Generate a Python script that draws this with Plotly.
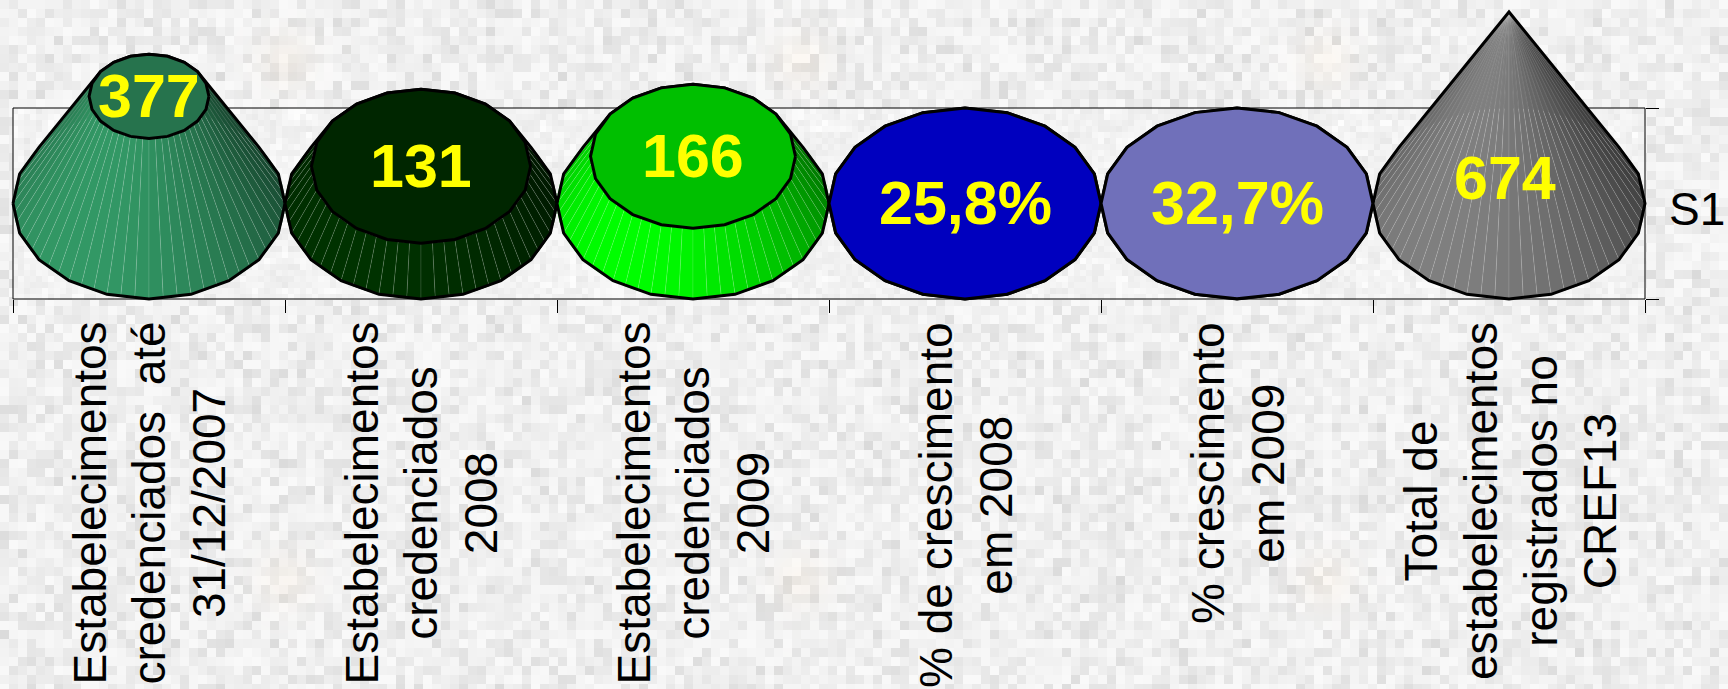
import base64, struct, zlib
import numpy as np
import plotly.graph_objects as go

# ---- data ----
categories = [
    "Estabelecimentos<br>credenciados  até<br>31/12/2007",
    "Estabelecimentos<br>credenciados<br>2008",
    "Estabelecimentos<br>credenciados<br>2009",
    "% de crescimento<br>em 2008",
    "% crescimento<br>em 2009",
    "Total de<br>estabelecimentos<br>registrados no<br>CREF13",
]
values = [377, 131, 166, 0.258, 0.327, 674]
value_labels = ["377", "131", "166", "25,8%", "32,7%", "674"]
series_name = "S1"

# ---- styles ----
side_colors = ["#339966", "#003300", "#00FF00", "#0000FF", "#9999FF", "#808080"]
cap_colors = ["#26734D", "#002600", "#00BF00", "#0000BF", "#7070BA", "#606060"]
label_shift_y_px = [0, 0, 0, 0, 0, 166]
label_shift_x_px = [0, 0, 0, 0, 0, -4]
W, H = 1728, 689
FX0, FX1, FY0, FY1 = 13, 1645, 108, 299
Y_HALF = 336.0          # half height of the base ellipse in value units
X_HALF = 0.5
APEX = max(values)
N = 60
FONT = "Liberation Sans, Arial, sans-serif"

# axes cover the whole canvas, so that marks above the frame are not clipped
px_per_x = (FX1 - FX0) / len(values)
px_per_y = (FY1 - FY0) / (2 * Y_HALF)
x_range = [-0.5 - FX0 / px_per_x, 5.5 + (W - FX1) / px_per_x]
y_mid_px = (FY0 + FY1) / 2
y_range = [-(H - y_mid_px) / px_per_y, y_mid_px / px_per_y]


def background_uri():
    def noise(i, j, seed):
        v = np.sin(i * 12.9898 + j * 78.233 + seed) * 43758.5453
        return v - np.floor(v)

    yy, xx = np.mgrid[0:H, 0:W]
    n1 = noise(xx // 9, yy // 9, 1.0)
    outer = 218 + 32 * np.sqrt(n1)
    n2 = noise(xx // 6, yy // 6, 2.0)
    n3 = noise(xx // 12, yy // 12, 3.0)
    inner = 232 + 12 * n2 + 10 * n3
    inside = (xx >= FX0) & (xx <= FX1) & (yy >= FY0) & (yy <= FY1)
    g = np.where(inside, inner, outer)
    tint = np.zeros_like(g, dtype=float)
    for cx in (285, 800, 1325):
        for cy in (60, 580):
            tint += np.exp(-(((xx - cx) / 28.0) ** 2 + ((yy - cy) / 28.0) ** 2))
    rgb = np.stack([g + 3 * tint, g - 1 * tint, g - 6 * tint], axis=2)
    rgb = np.clip(rgb, 0, 255).astype(np.uint8)
    raw = b"".join(b"\x00" + rgb[r].tobytes() for r in range(H))

    def chunk(tag, data):
        body = tag + data
        return struct.pack(">I", len(data)) + body + struct.pack(">I", zlib.crc32(body))

    png = (b"\x89PNG\r\n\x1a\n"
           + chunk(b"IHDR", struct.pack(">IIBBBBB", W, H, 8, 2, 0, 0, 0))
           + chunk(b"IDAT", zlib.compress(raw, 9))
           + chunk(b"IEND", b""))
    return "data:image/png;base64," + base64.b64encode(png).decode()


def shade(color, f):
    r, g, b = int(color[1:3], 16), int(color[3:5], 16), int(color[5:7], 16)
    return "rgb(%d,%d,%d)" % (r * f, g * f, b * f)


def hull(points):
    # convex hull of the base and top rims: the silhouette of the cone
    pts = sorted(set(points))

    def half(seq):
        out = []
        for p in seq:
            while len(out) > 1 and ((out[-1][0] - out[-2][0]) * (p[1] - out[-2][1])
                                    - (out[-1][1] - out[-2][1]) * (p[0] - out[-2][0])) <= 0:
                out.pop()
            out.append(p)
        return out

    lo, up = half(pts), half(pts[::-1])
    return lo[:-1] + up[:-1]


fig = go.Figure()
theta = np.linspace(0, 2 * np.pi, N + 1)

for idx, (v, sc, cc) in enumerate(zip(values, side_colors, cap_colors)):
    k = 1 - v / APEX
    bx = idx + X_HALF * np.cos(theta)
    by = Y_HALF * np.sin(theta)
    tx = idx + X_HALF * k * np.cos(theta)
    ty = v + Y_HALF * k * np.sin(theta)
    order = sorted(range(N), key=lambda a: -np.sin((theta[a] + theta[a + 1]) / 2))
    for a in order:
        mid = (theta[a] + theta[a + 1]) / 2
        f = 0.7 + 0.3 * np.cos(mid - np.radians(235))
        fig.add_trace(go.Scatter(
            x=[bx[a], bx[a + 1], tx[a + 1], tx[a], bx[a]],
            y=[by[a], by[a + 1], ty[a + 1], ty[a], by[a]],
            mode="lines", line=dict(width=0.5, color="rgba(255,255,255,0.22)"),
            fill="toself", fillcolor=shade(sc, f),
            showlegend=False, hoverinfo="skip"))
    outline = hull([(float(p), float(q)) for p, q in zip(bx[::3], by[::3])]
                   + [(float(p), float(q)) for p, q in zip(tx[::3], ty[::3])])
    outline.append(outline[0])
    fig.add_trace(go.Scatter(
        x=[p[0] for p in outline], y=[p[1] for p in outline],
        mode="lines", line=dict(color="black", width=3),
        showlegend=False, hoverinfo="skip"))
    if k > 0.01:
        fig.add_trace(go.Scatter(
            x=tx[::3], y=ty[::3], mode="lines", line=dict(color="black", width=3),
            fill="toself", fillcolor=cc,
            showlegend=False, hoverinfo="skip"))

annotations = []
for idx, (lab, v, txt, sy, sx) in enumerate(
        zip(categories, values, value_labels, label_shift_y_px, label_shift_x_px)):
    annotations.append(dict(
        x=idx, y=v, xref="x", yref="y", text="<b>%s</b>" % txt, showarrow=False,
        yshift=-sy, xshift=sx, font=dict(family=FONT, size=61, color="#FFFF00"),
        xanchor="center", yanchor="middle"))
    annotations.append(dict(
        x=idx, y=(H - 320) / H, xref="x", yref="paper", text=lab, showarrow=False,
        textangle=-90, align="center", xanchor="center", yanchor="top", xshift=1,
        font=dict(family=FONT, size=46, color="black")))
annotations.append(dict(
    x=1697 / W, y=1 - 209 / H, xref="paper", yref="paper", text=series_name, showarrow=False,
    xanchor="center", yanchor="middle", font=dict(family=FONT, size=46, color="black")))

fig.update_layout(
    width=W, height=H, autosize=False,
    margin=dict(l=0, r=0, t=0, b=0, pad=0),
    paper_bgcolor="#EBEBEB", plot_bgcolor="rgba(0,0,0,0)",
    showlegend=False,
    annotations=annotations,
    images=[dict(source=background_uri(), xref="paper", yref="paper", x=0, y=1,
                 sizex=1, sizey=1, xanchor="left", yanchor="top", sizing="stretch",
                 layer="below")],
    shapes=[dict(type="rect", xref="x", yref="y", x0=-0.5, x1=5.5, y0=-Y_HALF, y1=Y_HALF,
                 line=dict(color="black", width=1), fillcolor="rgba(0,0,0,0)", layer="below")],
    xaxis=dict(domain=[0, 1], range=x_range, tickmode="array",
               tickvals=[i - 0.5 for i in range(len(values) + 1)], showticklabels=False,
               ticks="outside", ticklen=13, tickcolor="black", tickwidth=1,
               anchor="free", position=1 - FY1 / H,
               showline=False, showgrid=False, zeroline=False, layer="below traces"),
    yaxis=dict(domain=[0, 1], range=y_range, side="right",
               tickmode="array", tickvals=[-Y_HALF, Y_HALF], showticklabels=False,
               ticks="outside", ticklen=13, tickcolor="black", tickwidth=1,
               anchor="free", position=FX1 / W,
               showline=False, showgrid=False, zeroline=False, layer="below traces"),
)
fig.write_html("out.html", config={"displayModeBar": False},
               post_script="document.body.style.margin='0';document.body.style.overflow='hidden';")
